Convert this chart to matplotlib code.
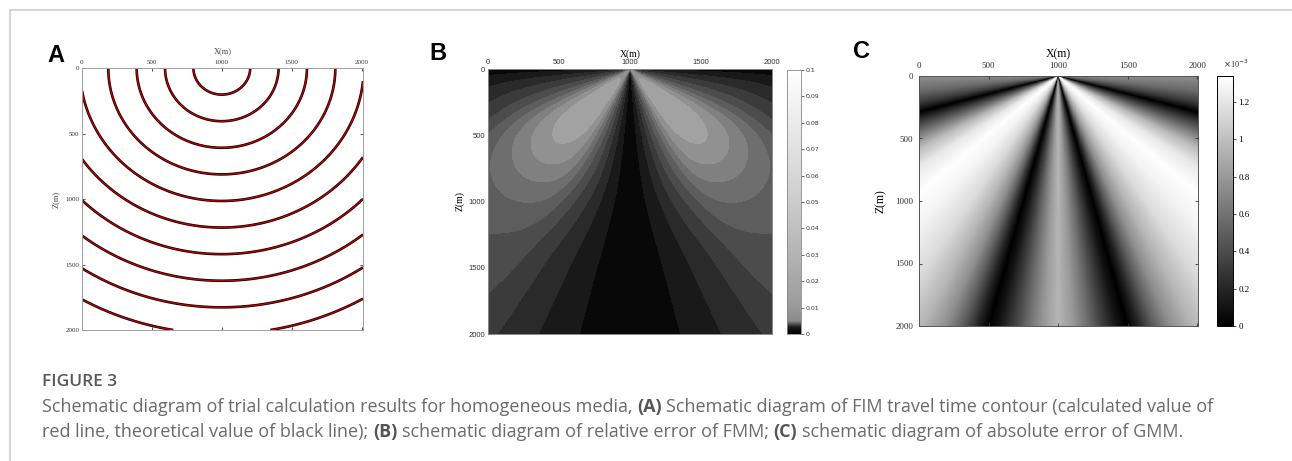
import numpy as np
import matplotlib
matplotlib.use("Agg")
import matplotlib.pyplot as plt
from matplotlib.colors import LinearSegmentedColormap, Normalize
from matplotlib.cm import ScalarMappable
from matplotlib.lines import Line2D

W, H = 1292, 461

# ---- data ----
x_ticks = [0, 500, 1000, 1500, 2000]
z_ticks = [0, 500, 1000, 1500, 2000]
source_x = 1000.0

# A: travel time contours (s), homogeneous medium
velocity = 2030.0
times = [0.1, 0.2, 0.3, 0.4, 0.5, 0.6, 0.7, 0.8, 0.9, 1.0]

# B: FMM relative error = angular factor * radial factor
b_angle = [0, 5, 11.6, 18, 23, 30, 36, 42, 48, 55, 62, 68, 75, 83, 88, 90]
b_shape = [0, 0.1, 0.25, 0.45, 0.6, 0.88, 0.96, 1.0, 0.99, 0.93, 0.78, 0.57, 0.41, 0.25, 0.12, 0]
b_radius = [0, 60, 200, 450, 620, 780, 950, 1080, 1130, 1300, 1450, 1560, 1860, 2300]
b_scale = [0.05, 0.064, 0.069, 0.0695, 0.067, 0.063, 0.056, 0.050, 0.048, 0.042, 0.038,
           0.036, 0.033, 0.030]
b_levels = [0, 0.007, 0.014, 0.021, 0.028, 0.035, 0.042, 0.049, 0.056, 0.063, 0.070, 0.077]
b_cbar_ticks = [0, 0.01, 0.02, 0.03, 0.04, 0.05, 0.06, 0.07, 0.08, 0.09, 0.1]

# C: GMM absolute error (x1e-3) against ray angle from vertical
c_angle = [0, 3, 6, 9, 12, 14, 16, 19, 22, 26, 32, 40, 47, 54, 60, 65, 70, 74, 78, 83, 90]
c_err = [0.95, 0.80, 0.58, 0.33, 0.10, 0.0, 0.18, 0.50, 0.75, 0.95, 1.15, 1.28, 1.33,
         1.22, 0.98, 0.65, 0.30, 0.0, 0.30, 0.55, 0.75]
c_cbar_ticks = [0, 0.2, 0.4, 0.6, 0.8, 1.0, 1.2]
c_max = 1.34


def rect(l, t, r, b):
    return [l / W, 1 - b / H, (r - l) / W, (b - t) / H]


def smooth_profile(xp, fp, x, width):
    # read-off profile, rounded with a running mean so contours have no kinks
    fine = np.linspace(xp[0], xp[-1], 2001)
    vals = np.interp(fine, xp, fp)
    n = max(3, int(width / (fine[1] - fine[0])) | 1)
    pad = np.pad(vals, n // 2, mode="edge")
    vals = np.convolve(pad, np.ones(n) / n, mode="valid")
    vals = np.convolve(np.pad(vals, n // 2, mode="edge"), np.ones(n) / n, mode="valid")
    return np.interp(x, fine, vals)


fig = plt.figure(figsize=(W / 100, H / 100), dpi=100)

# page frame
fig.add_artist(Line2D([10 / W, 1], [1 - 10 / H, 1 - 10 / H], color="#cfcfcf", lw=1.2))
fig.add_artist(Line2D([10 / W, 10 / W], [0, 1 - 10 / H], color="#cfcfcf", lw=1.2))

xg = np.linspace(0, 2010, 804)
zg = np.linspace(0, 2000, 801)
X, Z = np.meshgrid(xg, zg)
R = np.hypot(X - source_x, Z)
theta = np.degrees(np.arctan2(np.abs(X - source_x), Z))


def style_axes(ax, font, size, spine_col, xmax, pad=2):
    ax.set_xlim(0, xmax)
    ax.set_ylim(2000, 0)
    ax.xaxis.tick_top()
    ax.set_xticks(x_ticks)
    ax.set_yticks(z_ticks)
    ax.tick_params(which="both", direction="in", length=2.5, width=0.6, top=True,
                   bottom=True, left=True, right=True, labeltop=True, labelbottom=False,
                   labelsize=size, pad=pad, colors="#333333")
    for lab in ax.get_xticklabels() + ax.get_yticklabels():
        lab.set_fontfamily(font)
    for s in ax.spines.values():
        s.set_color(spine_col)
        s.set_linewidth(0.7)


# ---- A ----
axA = fig.add_axes(rect(82, 68, 363, 330))
tt = R / velocity
axA.contour(X, Z, tt, levels=times, colors="black", linewidths=1.9)
axA.contour(X, Z, tt, levels=times, colors="#c40000", linewidths=0.9)
style_axes(axA, "Liberation Serif", 5, "#a0a0a0", 2010)
axA.set_xlabel("X(m)", fontfamily="Liberation Serif", fontsize=6, color="#444", labelpad=5)
axA.xaxis.set_label_position("top")
axA.set_ylabel("Z(m)", fontfamily="Liberation Serif", fontsize=6, color="#444", labelpad=4)
fig.text(56 / W, 1 - 55 / H, "A", fontsize=17, fontweight="bold",
         fontfamily="Liberation Sans", ha="center", va="center")

# ---- B ----
axB = fig.add_axes(rect(488, 69, 772, 334))
errB = smooth_profile(b_angle, b_shape, theta, 6.0) * smooth_profile(b_radius, b_scale, R, 160.0)
errB = np.clip(errB, 0, 0.0769)
axB.contourf(X, Z, errB, levels=b_levels, cmap="gray", vmin=0, vmax=0.105)
style_axes(axB, "Liberation Sans", 5.5, "#888888", 2000)
axB.tick_params(length=0)
axB.set_xlabel("X(m)", fontfamily="Liberation Serif", fontsize=7, labelpad=2)
axB.xaxis.set_label_position("top")
axB.set_ylabel("Z(m)", fontfamily="Liberation Serif", fontsize=7, labelpad=3)
fig.text(438 / W, 1 - 54 / H, "B", fontsize=17, fontweight="bold",
         fontfamily="Liberation Sans", ha="center", va="center")

caxB = fig.add_axes(rect(787, 70, 801, 334))
cmB = LinearSegmentedColormap.from_list(
    "fmm", [(0, "#000000"), (0.025, "#1a1a1a"), (0.05, "#8a8a8a"), (0.1, "#9a9a9a"),
            (0.5, "#cccccc"), (1.0, "#ffffff")])
cbB = fig.colorbar(ScalarMappable(Normalize(0, 0.1), cmB), cax=caxB, ticks=b_cbar_ticks)
cbB.ax.set_yticklabels([f"{t:g}" for t in b_cbar_ticks])
cbB.ax.tick_params(labelsize=4.5, length=2, width=0.5, pad=1.5, colors="#333")
cbB.outline.set_edgecolor("#888")
cbB.outline.set_linewidth(0.6)

# ---- C ----
axC = fig.add_axes(rect(919, 76, 1198, 326))
errC = np.interp(theta, c_angle, c_err)
axC.pcolormesh(X, Z, errC, cmap="gray", vmin=0, vmax=c_max, shading="auto")
style_axes(axC, "Liberation Serif", 6.5, "#555555", 2005, pad=4)
axC.set_xlabel("X(m)", fontfamily="Liberation Serif", fontsize=8.5, labelpad=4)
axC.xaxis.set_label_position("top")
axC.set_ylabel("Z(m)", fontfamily="Liberation Serif", fontsize=8.5, labelpad=6)
fig.text(862 / W, 1 - 52 / H, "C", fontsize=17, fontweight="bold",
         fontfamily="Liberation Sans", ha="center", va="center")

caxC = fig.add_axes(rect(1217, 76, 1233, 326))
cbC = fig.colorbar(ScalarMappable(Normalize(0, c_max), "gray"), cax=caxC, ticks=c_cbar_ticks)
cbC.ax.set_yticklabels([f"{t:g}" for t in c_cbar_ticks])
cbC.ax.tick_params(labelsize=6.5, length=2, width=0.5, pad=2)
for lab in cbC.ax.get_yticklabels():
    lab.set_fontfamily("Liberation Serif")
cbC.outline.set_linewidth(0.7)
fig.text(1236 / W, 1 - 64 / H, r"$\times$10$^{-3}$", fontsize=6, fontfamily="Liberation Serif",
         ha="center", va="center", color="#333")

# ---- caption ----
cap_font = "Open Sans"
cap_size = 13.0
fig.text(42 / W, 1 - 386 / H, "FIGURE 3", fontsize=12.5, fontfamily=cap_font,
         fontweight="semibold", color="#595959", va="baseline")

line1 = [("Schematic diagram of trial calculation results for homogeneous media,", "normal"),
         ("(A)", "bold"),
         ("Schematic diagram of FIM travel time contour (calculated value of", "normal")]
line2 = [("red line, theoretical value of black line);", "normal"),
         ("(B)", "bold"),
         ("schematic diagram of relative error of FMM;", "normal"),
         ("(C)", "bold"),
         ("schematic diagram of absolute error of GMM.", "normal")]

fig.canvas.draw()
renderer = fig.canvas.get_renderer()


def width_px(s, weight):
    t = fig.text(0, 0, s, fontsize=cap_size, fontfamily=cap_font, fontweight=weight)
    w = t.get_window_extent(renderer).width
    t.remove()
    return w


space = width_px("a a", "normal") - width_px("aa", "normal")


def put_line(segments, y_base):
    x = 42.0
    for s, weight in segments:
        t = fig.text(x / W, 1 - y_base / H, s, fontsize=cap_size, fontfamily=cap_font,
                     fontweight=weight, color="#555555" if weight == "bold" else "#6a6a6a",
                     va="baseline")
        x += t.get_window_extent(renderer).width + space


put_line(line1, 412)
put_line(line2, 437)

fig.savefig("out.png", dpi=100)
